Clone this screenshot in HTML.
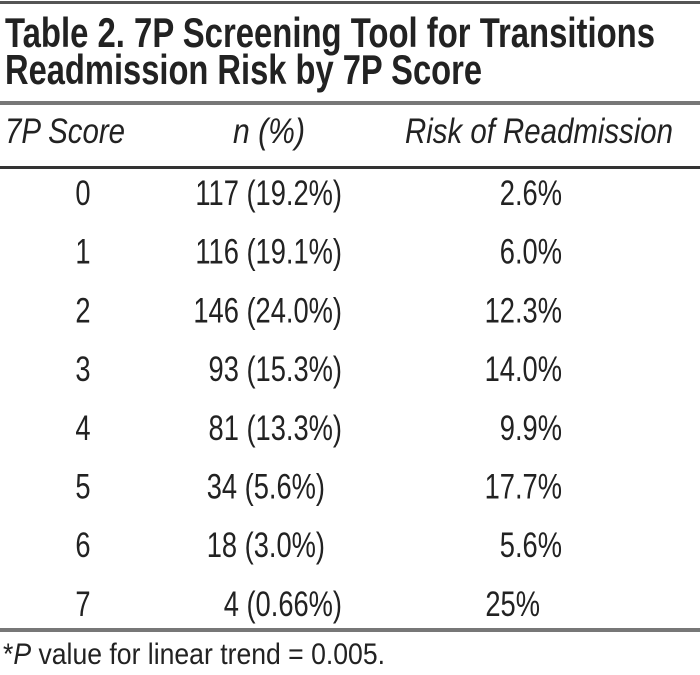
<!DOCTYPE html>
<html><head><meta charset="utf-8"><style>
html,body{margin:0;padding:0;background:#fff;width:700px;height:675px;overflow:hidden}
svg{display:block}
text{font-family:"Liberation Sans",Arial,sans-serif;fill:#222}
</style></head><body>
<svg id="tbl" width="700" height="675" viewBox="0 0 700 675">
<rect x="0" y="1" width="700" height="3" fill="#555"/>
<text x="5" y="47" font-size="42" font-weight="bold" textLength="650" lengthAdjust="spacingAndGlyphs">Table 2. 7P Screening Tool for Transitions</text>
<text x="5" y="84" font-size="42" font-weight="bold" textLength="477" lengthAdjust="spacingAndGlyphs">Readmission Risk by 7P Score</text>
<rect x="0" y="101" width="700" height="4" fill="#777"/>
<text x="5" y="143" font-size="35" font-style="italic" textLength="120" lengthAdjust="spacingAndGlyphs">7P Score</text>
<text x="233" y="143" font-size="35" font-style="italic" textLength="72" lengthAdjust="spacingAndGlyphs">n (%)</text>
<text x="405" y="143" font-size="35" font-style="italic" textLength="268" lengthAdjust="spacingAndGlyphs">Risk of Readmission</text>
<rect x="0" y="166" width="700" height="3" fill="#333"/>
<g id="rows"></g>
<rect x="0" y="628" width="700" height="4" fill="#777"/>
<text x="3" y="664" font-size="30" textLength="382" lengthAdjust="spacingAndGlyphs">*<tspan font-style="italic">P</tspan> value for linear trend = 0.005.</text>
</svg>
<script>
const scores = ["0","1","2","3","4","5","6","7"];
const counts = ["117 (19.2%)","116 (19.1%)","146 (24.0%)","93 (15.3%)","81 (13.3%)","34 (5.6%)","18 (3.0%)","4 (0.66%)"];
const risks = ["2.6%","6.0%","12.3%","14.0%","9.9%","17.7%","5.6%","25%"];
const NS = "http://www.w3.org/2000/svg";
const g = document.getElementById("rows");
const sx = 0.78;
function rowY(i){ return 205 + i * 58.7; }
function addText(str, x, y, anchor){
  const t = document.createElementNS(NS, "text");
  t.setAttribute("x", (x / sx).toFixed(1));
  t.setAttribute("y", y.toFixed(1));
  t.setAttribute("font-size", "35");
  t.setAttribute("text-anchor", anchor);
  t.setAttribute("transform", "scale(" + sx + ",1)");
  t.textContent = str;
  g.appendChild(t);
  return t;
}
scores.forEach((s, i) => {
  const y = rowY(i);
  const a = addText(s, 83, y, "middle");
  
  
  const nEnd = (i === 5 || i === 6) ? 325 : 342;
  const b = addText(counts[i], nEnd, y, "end");
  
  
  const rEnd = (i === 7) ? 540 : 562;
  const c = addText(risks[i], rEnd, y, "end");
  
  
});
</script>
</body></html>
